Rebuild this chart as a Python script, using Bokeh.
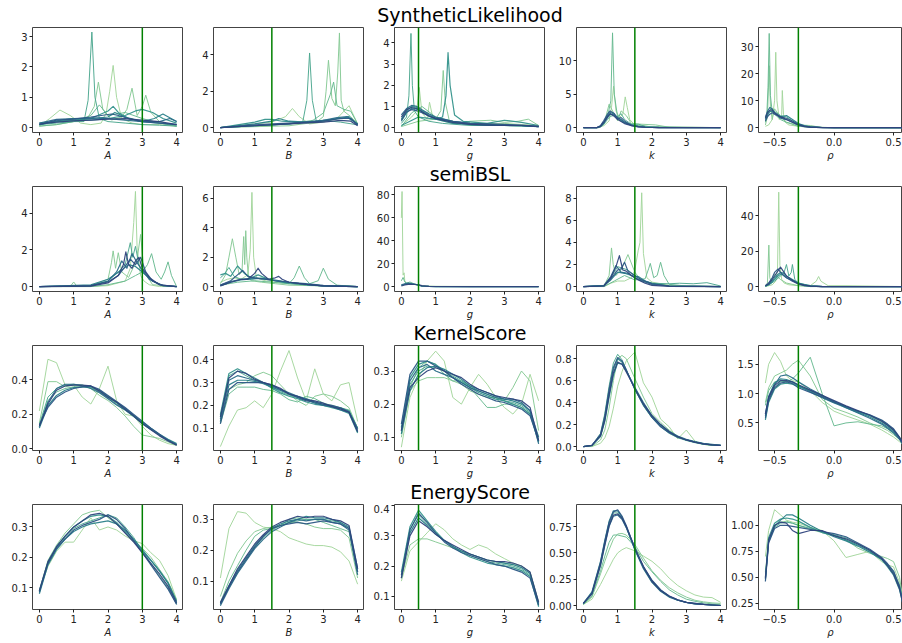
from bokeh.plotting import figure
from bokeh.models import Span, FixedTicker, Range1d, Div
from bokeh.layouts import row, column
from bokeh.embed import file_html
from bokeh.resources import INLINE

# ---------------- data ----------------
ROW_TITLES = ["SyntheticLikelihood", "semiBSL", "KernelScore", "EnergyScore"]
PARAMS = ["A", "B", "g", "k", "ρ"]
TRUE_VALUES = [3.0, 1.5, 0.5, 1.5, -0.3]

GRID = [0, 0.25, 0.5, 0.75, 1, 1.25, 1.5, 1.75, 2, 2.25, 2.5, 2.75, 3, 3.25, 3.5, 3.75, 4]
K_GRID = [0, 0.25, 0.5, 0.625, 0.75, 0.875, 1, 1.125, 1.25, 1.5, 1.75, 2, 2.25, 2.5, 2.75, 3, 3.25, 3.5, 3.75, 4]
R_GRID = [-0.577, -0.55, -0.5, -0.45, -0.4, -0.35, -0.3, -0.2, -0.1, 0.0, 0.1, 0.2, 0.3, 0.4, 0.45, 0.5, 0.55, 0.577]

# SyntheticLikelihood (x, y pairs, light -> dark)
SL_A = [
    ([0, 0.3, 0.6, 0.9, 1.2, 1.5, 1.8, 1.95, 2.05, 2.15, 2.25, 2.4, 2.7, 3.0, 3.5, 4.0],
     [0.05, 0.3, 0.58, 0.4, 0.15, 0.1, 0.15, 0.5, 1.2, 2.05, 1.0, 0.3, 0.15, 0.1, 0.1, 0.05]),
    ([0, 0.5, 1.0, 1.4, 1.6, 1.72, 1.85, 2.1, 2.4, 2.55, 2.7, 2.85, 3.0, 3.1, 3.25, 3.5, 4.0],
     [0.05, 0.1, 0.2, 0.3, 0.7, 1.5, 0.6, 0.25, 0.35, 0.6, 1.3, 0.4, 0.7, 1.07, 0.5, 0.2, 0.05]),
    ([0, 0.5, 1.0, 1.5, 1.75, 2.0, 2.5, 3.0, 3.5, 4.0],
     [0.05, 0.1, 0.2, 0.4, 0.75, 0.4, 0.5, 0.3, 0.15, 0.05]),
    ([0, 0.5, 1.0, 1.3, 1.42, 1.53, 1.62, 1.75, 2.0, 2.5, 3.0, 3.5, 4.0],
     [0.1, 0.15, 0.2, 0.2, 0.9, 3.15, 1.0, 0.3, 0.2, 0.15, 0.1, 0.08, 0.05]),
    ([0, 0.5, 1, 1.5, 2.0, 2.15, 2.3, 2.6, 3.0, 3.5, 4.0],
     [0.1, 0.2, 0.25, 0.3, 0.55, 0.7, 0.5, 0.3, 0.2, 0.15, 0.1]),
    ([0, 0.5, 1, 1.5, 2, 2.5, 2.8, 3.0, 3.3, 3.6, 4.0],
     [0.15, 0.2, 0.25, 0.25, 0.3, 0.4, 0.55, 0.6, 0.5, 0.3, 0.15]),
    ([0, 0.5, 1, 1.5, 2, 2.2, 2.5, 3, 3.35, 3.6, 4.0],
     [0.1, 0.22, 0.3, 0.3, 0.35, 0.5, 0.35, 0.2, 0.3, 0.45, 0.2]),
    ([0, 0.5, 1, 1.5, 2, 2.5, 3, 3.5, 3.8, 4.0],
     [0.15, 0.27, 0.3, 0.32, 0.3, 0.25, 0.2, 0.2, 0.3, 0.2]),
    ([0, 0.5, 1, 1.5, 1.8, 2.1, 2.3, 2.6, 3, 3.5, 4.0],
     [0.1, 0.25, 0.28, 0.35, 0.4, 0.45, 0.4, 0.3, 0.2, 0.15, 0.1]),
    ([0, 0.5, 1, 1.5, 2, 2.5, 3, 3.5, 4],
     [0.12, 0.18, 0.22, 0.25, 0.28, 0.3, 0.25, 0.2, 0.1]),
]
SL_B = [
    ([0, 0.5, 1, 1.5, 1.9, 2.1, 2.3, 2.6, 3.0, 3.4, 3.6, 3.75, 3.9, 4.0],
     [0, 0.1, 0.2, 0.3, 0.6, 1.05, 0.6, 0.2, 0.3, 0.5, 0.9, 1.2, 0.6, 0.2]),
    ([0, 1, 2, 2.8, 3.0, 3.08, 3.15, 3.25, 3.35, 3.42, 3.47, 3.52, 3.6, 3.8, 4.0],
     [0, 0.05, 0.1, 0.3, 0.6, 2.0, 3.7, 1.6, 1.2, 3.0, 5.2, 1.5, 0.9, 0.6, 0.2]),
    ([0, 1, 2, 2.7, 3.0, 3.2, 3.3, 3.4, 3.6, 3.8, 4.0],
     [0, 0.1, 0.2, 0.4, 0.8, 1.8, 2.5, 1.2, 1.0, 0.9, 0.2]),
    ([0, 1, 2, 2.4, 2.52, 2.6, 2.68, 2.8, 3.0, 3.5, 4.0],
     [0, 0.1, 0.2, 0.3, 1.5, 4.1, 1.5, 0.3, 0.4, 0.3, 0.15]),
    ([0, 0.5, 1, 1.3, 1.5, 1.8, 2.2, 2.6, 3, 3.4, 3.7, 4],
     [0, 0.15, 0.3, 0.45, 0.45, 0.35, 0.3, 0.3, 0.35, 0.5, 0.55, 0.2]),
    ([0, 0.5, 1, 1.5, 1.7, 2.0, 2.5, 3, 3.5, 3.75, 4],
     [0, 0.1, 0.2, 0.35, 0.5, 0.35, 0.3, 0.4, 0.5, 0.6, 0.15]),
    ([0, 0.5, 1, 1.5, 2, 2.5, 3, 3.4, 3.7, 4],
     [0, 0.05, 0.1, 0.15, 0.2, 0.3, 0.4, 0.55, 0.6, 0.2]),
    ([0, 0.5, 1, 1.5, 2, 2.5, 3, 3.5, 3.8, 4],
     [0, 0.08, 0.15, 0.2, 0.25, 0.3, 0.35, 0.5, 0.5, 0.15]),
    ([0, 1, 2, 3, 3.5, 3.8, 4],
     [0, 0.1, 0.2, 0.3, 0.4, 0.35, 0.1]),
]
SL_G_X = [0, 0.15, 0.3, 0.45, 0.6, 0.8, 1, 1.5, 2, 2.5, 3, 3.5, 4]
SL_G = [
    ([0, 0.3, 0.45, 0.52, 0.6, 0.75, 0.82, 0.9, 1.0, 1.5, 2, 3, 4],
     [0.1, 0.5, 0.8, 1.9, 0.7, 0.4, 1.2, 0.6, 0.4, 0.2, 0.2, 0.2, 0.1]),
    ([0, 0.5, 1.0, 1.15, 1.22, 1.28, 1.4, 1.6, 2, 2.6, 3.0, 3.4, 3.7, 4],
     [0.05, 0.3, 0.4, 0.8, 2.7, 1.2, 0.3, 0.2, 0.3, 0.35, 0.25, 0.3, 0.4, 0.1]),
    ([0, 0.3, 0.6, 1, 1.5, 2, 3, 4],
     [0.05, 0.7, 1.0, 0.5, 0.3, 0.2, 0.15, 0.05]),
    ([0, 0.15, 0.22, 0.28, 0.32, 0.38, 0.5, 0.8, 1.2, 2, 3, 4],
     [0.2, 0.5, 1.5, 4.45, 2.0, 0.8, 0.5, 0.3, 0.2, 0.1, 0.1, 0.05]),
    ([0, 0.5, 1.0, 1.2, 1.3, 1.36, 1.42, 1.55, 1.8, 2.5, 3.0, 3.5, 4],
     [0.1, 0.5, 0.4, 0.5, 1.5, 3.55, 2.0, 0.6, 0.3, 0.2, 0.35, 0.25, 0.1]),
    (SL_G_X, [0.4, 0.8, 1.0, 0.95, 0.8, 0.6, 0.45, 0.25, 0.15, 0.12, 0.1, 0.1, 0.05]),
    (SL_G_X, [0.3, 0.7, 0.9, 0.88, 0.75, 0.55, 0.4, 0.2, 0.15, 0.1, 0.1, 0.08, 0.05]),
    (SL_G_X, [0.6, 0.9, 1.05, 1.0, 0.85, 0.65, 0.5, 0.3, 0.2, 0.15, 0.12, 0.1, 0.05]),
    (SL_G_X, [0.35, 0.75, 0.85, 0.8, 0.7, 0.55, 0.45, 0.3, 0.2, 0.18, 0.15, 0.12, 0.06]),
    (SL_G_X, [0.5, 0.85, 0.95, 0.9, 0.75, 0.55, 0.42, 0.25, 0.15, 0.12, 0.1, 0.1, 0.05]),
]
SL_K_X = [0, 0.4, 0.5, 0.6, 0.7, 0.78, 0.9, 1.0, 1.1, 1.2, 1.4, 1.6, 1.8, 2.2, 4]
SL_K = [
    ([0, 0.45, 0.6, 0.75, 0.82, 0.88, 0.95, 1.05, 1.15, 1.22, 1.28, 1.35, 1.5, 2, 4],
     [0, 0, 0.3, 1.0, 3.0, 6.2, 2.5, 1.5, 2.0, 4.6, 3.0, 1.2, 0.4, 0.1, 0]),
    ([0, 0.45, 0.6, 0.75, 0.9, 1.0, 1.1, 1.25, 1.4, 1.7, 2.1, 2.5, 4],
     [0, 0, 0.5, 3.5, 2.0, 1.0, 2.5, 1.8, 0.6, 0.5, 0.4, 0.05, 0]),
    ([0, 0.4, 0.55, 0.7, 0.8, 0.85, 0.9, 1.0, 1.2, 1.5, 2, 3, 4],
     [0, 0, 0.3, 1.5, 4, 14.2, 5, 1.5, 0.8, 0.3, 0.1, 0, 0]),
    (SL_K_X, [0, 0, 0.1, 0.5, 1.2, 1.7, 1.8, 1.6, 2.1, 1.2, 0.5, 0.5, 0.2, 0.05, 0]),
    (SL_K_X, [0, 0, 0.2, 0.9, 1.8, 2.3, 2.0, 1.4, 1.0, 0.7, 0.35, 0.15, 0.05, 0, 0]),
    (SL_K_X, [0, 0, 0.15, 0.7, 1.5, 2.0, 1.9, 1.5, 1.2, 0.8, 0.4, 0.2, 0.08, 0.02, 0]),
    (SL_K_X, [0, 0, 0.3, 1.1, 2.0, 2.5, 2.1, 1.3, 1.5, 1.0, 0.3, 0.15, 0.05, 0, 0]),
    (SL_K_X, [0, 0, 0.2, 0.8, 1.6, 2.1, 1.7, 1.2, 0.9, 0.6, 0.3, 0.1, 0.05, 0, 0]),
]
SL_R_X = [-0.577, -0.56, -0.54, -0.52, -0.5, -0.45, -0.4, -0.35, -0.3, -0.25, -0.2, -0.1, 0, 0.577]
SL_RHO = [
    ([-0.577, -0.55, -0.52, -0.5, -0.49, -0.48, -0.46, -0.44, -0.435, -0.425, -0.41, -0.38, -0.3, -0.2, 0, 0.577],
     [0.5, 1, 3, 10, 28, 10, 3, 5, 13.8, 5, 2, 1, 0.5, 0.2, 0, 0]),
    ([-0.577, -0.56, -0.545, -0.535, -0.52, -0.5, -0.45, -0.4, -0.3, -0.2, -0.1, 0.577],
     [1, 4, 23, 8, 3, 7, 4, 2, 1, 0.8, 0, 0]),
    ([-0.577, -0.565, -0.555, -0.545, -0.535, -0.52, -0.5, -0.45, -0.4, -0.3, -0.2, 0, 0.577],
     [2, 5, 15, 35, 12, 6, 5, 3, 2, 0.5, 0.2, 0, 0]),
    (SL_R_X, [3.5, 5, 6.5, 7, 6, 4.5, 4, 2.5, 1.2, 0.6, 0.2, 0.05, 0, 0]),
    (SL_R_X, [3, 4.5, 6, 6, 5.5, 4, 4.5, 3, 1.5, 0.8, 0.3, 0.05, 0, 0]),
    (SL_R_X, [4, 6, 7.5, 7, 5.5, 3.5, 3, 2, 1, 0.5, 0.2, 0, 0, 0]),
    (SL_R_X, [2.5, 4, 5, 5.5, 5, 4, 3.5, 2.5, 1.3, 0.6, 0.3, 0.05, 0, 0]),
    (SL_R_X, [3.5, 5.5, 6.5, 6.5, 5.5, 4, 3, 2, 1, 0.4, 0.2, 0, 0, 0]),
]

# semiBSL
BSL_A = [
    ([0, 1.5, 2.0, 2.5, 2.65, 2.75, 2.8, 2.85, 2.95, 3.05, 3.2, 3.5, 4],
     [0, 0, 0.05, 0.3, 1.0, 3.5, 5.2, 2.0, 0.6, 0.3, 0.1, 0, 0]),
    ([0, 0.9, 1.0, 1.1, 1.5, 2.0, 2.1, 2.15, 2.22, 2.3, 2.4, 2.6, 2.85, 2.95, 3.05, 3.3, 4.0],
     [0, 0, 0.25, 0, 0.05, 0.4, 1.3, 1.95, 1.0, 1.85, 0.8, 0.5, 1.5, 2.85, 0.8, 0.1, 0]),
    ([0, 1.5, 2.0, 2.5, 2.8, 3.0, 3.15, 3.27, 3.4, 3.55, 3.65, 3.75, 3.85, 4.0],
     [0, 0, 0.1, 0.3, 0.6, 0.8, 1.2, 1.8, 0.8, 0.4, 0.8, 1.35, 0.6, 0]),
    ([0, 1.5, 2.0, 2.3, 2.5, 2.6, 2.65, 2.72, 2.8, 2.9, 3.0, 3.3, 3.6, 4],
     [0, 0.05, 0.3, 0.8, 1.2, 2.0, 2.4, 1.6, 2.2, 1.2, 0.8, 0.3, 0.05, 0]),
    ([0, 1.5, 2.0, 2.4, 2.6, 2.8, 3.0, 3.3, 3.6, 4],
     [0, 0.1, 0.4, 0.9, 1.2, 1.1, 0.8, 0.3, 0.05, 0]),
    ([0, 1.5, 2.0, 2.25, 2.4, 2.55, 2.7, 2.85, 3.0, 3.2, 3.5, 4],
     [0, 0.05, 0.3, 0.8, 1.4, 1.0, 1.8, 1.3, 0.9, 0.4, 0.1, 0]),
    ([0, 1.5, 2.0, 2.3, 2.5, 2.65, 2.8, 2.95, 3.1, 3.3, 3.6, 4],
     [0, 0.05, 0.25, 0.6, 1.1, 1.5, 1.2, 1.6, 0.8, 0.3, 0.05, 0]),
    ([0, 1.5, 2.0, 2.3, 2.45, 2.52, 2.6, 2.7, 2.8, 2.9, 3.0, 3.2, 3.5, 4],
     [0, 0.02, 0.2, 0.6, 1.2, 1.9, 1.2, 1.0, 1.4, 1.6, 1.0, 0.5, 0.1, 0]),
]
BSL_B = [
    ([0, 0.2, 0.4, 0.6, 0.8, 0.87, 0.92, 0.97, 1.05, 1.3, 1.6, 2.0, 2.5, 3, 4],
     [0.3, 0.5, 0.6, 0.5, 0.8, 2.5, 6.4, 2.0, 0.6, 0.4, 0.3, 0.2, 0.1, 0.05, 0]),
    ([0, 0.15, 0.25, 0.35, 0.45, 0.55, 0.63, 0.68, 0.71, 0.74, 0.77, 0.82, 0.9, 1.2, 1.6, 2, 3, 4],
     [0.2, 0.8, 2.0, 3.25, 2.0, 0.8, 1.0, 3.4, 1.5, 3.8, 2.0, 0.6, 0.4, 0.3, 0.2, 0.1, 0.05, 0]),
    ([0, 0.5, 1, 1.5, 2.0, 2.15, 2.3, 2.45, 2.6, 2.85, 3.0, 3.15, 3.4, 4],
     [0.1, 0.3, 0.4, 0.3, 0.2, 0.6, 1.4, 0.6, 0.2, 0.4, 1.25, 0.5, 0.1, 0]),
    ([0, 0.1, 0.25, 0.4, 0.6, 0.9, 1.2, 1.6, 2, 3, 4],
     [0.6, 0.8, 1.3, 0.7, 0.5, 0.5, 0.6, 0.4, 0.2, 0.05, 0]),
    ([0, 0.15, 0.3, 0.5, 0.7, 0.9, 1.1, 1.4, 1.8, 2.2, 2.6, 3, 4],
     [0.8, 0.9, 0.7, 1.4, 0.9, 0.6, 0.8, 0.5, 0.3, 0.2, 0.1, 0.05, 0]),
    ([0, 0.3, 0.6, 1.0, 1.3, 1.6, 2.0, 2.5, 3, 4],
     [0.05, 0.3, 0.45, 0.55, 0.55, 0.45, 0.3, 0.15, 0.05, 0]),
    ([0, 0.3, 0.6, 1.0, 1.3, 1.6, 2.0, 2.5, 3, 4],
     [0.1, 0.35, 0.5, 0.6, 0.5, 0.4, 0.3, 0.2, 0.08, 0]),
    ([0, 0.3, 0.5, 0.65, 0.8, 1.0, 1.3, 1.6, 2, 2.5, 3, 4],
     [0.1, 0.4, 0.8, 1.1, 0.7, 0.6, 0.5, 0.4, 0.3, 0.15, 0.05, 0]),
    ([0, 0.3, 0.6, 0.8, 1.0, 1.1, 1.2, 1.4, 1.6, 1.7, 1.8, 2.0, 2.5, 3, 4],
     [0.05, 0.3, 0.5, 0.5, 0.9, 1.25, 0.9, 0.5, 0.6, 0.7, 0.5, 0.3, 0.15, 0.05, 0]),
]
BSL_G_X = [0, 0.1, 0.2, 0.3, 0.4, 0.5, 0.6, 0.8, 1, 2, 4]
BSL_G = [
    ([0, 0.02, 0.05, 0.08, 0.1, 0.15, 0.3, 0.5, 0.6, 1, 4],
     [60, 83, 10, 12, 5, 3, 2, 1.5, 0.5, 0.2, 0]),
    ([0, 0.05, 0.1, 0.15, 0.25, 0.4, 0.5, 0.6, 1, 2, 4],
     [5, 8, 4, 3, 4, 2, 1.5, 0.3, 0.1, 0, 0]),
    (BSL_G_X, [1, 2, 2.5, 2.2, 2, 1.5, 0.5, 0.1, 0, 0, 0]),
    (BSL_G_X, [1.5, 2.5, 3, 2.5, 2, 1.2, 0.4, 0.1, 0, 0, 0]),
    (BSL_G_X, [0.5, 1.5, 2, 2, 1.8, 1.5, 0.8, 0.2, 0.05, 0, 0]),
]
BSL_K = [
    ([0, 0.6, 0.8, 1.0, 1.2, 1.4, 1.5, 1.6, 1.65, 1.7, 1.75, 1.85, 2.0, 2.5, 3, 4],
     [0, 0, 0.3, 0.5, 0.5, 0.8, 1.5, 3.3, 4.0, 8.5, 3.0, 0.8, 0.4, 0.1, 0, 0]),
    ([0, 0.6, 0.75, 0.82, 0.87, 0.95, 1.1, 1.3, 1.5, 1.7, 2.0, 2.5, 4],
     [0, 0.05, 1.0, 3.5, 2.0, 1.0, 1.5, 2.9, 1.3, 0.5, 0.3, 0.1, 0]),
    ([0, 0.6, 0.9, 1.2, 1.5, 1.8, 1.9, 1.95, 2.05, 2.15, 2.25, 2.35, 2.5, 3, 4],
     [0, 0, 0.5, 1.0, 0.6, 0.7, 1.6, 2.1, 0.8, 1.0, 2.2, 1.0, 0.2, 0.05, 0]),
    ([0, 0.6, 0.8, 1.0, 1.3, 1.6, 2.0, 2.5, 2.8, 3.2, 3.6, 4],
     [0, 0.05, 0.8, 1.8, 1.5, 0.7, 0.3, 0.25, 0.3, 0.25, 0.35, 0.05]),
    ([0, 0.6, 0.8, 1.0, 1.2, 1.4, 1.6, 1.8, 2.0, 2.5, 4],
     [0, 0.1, 0.6, 1.3, 1.2, 1.0, 0.9, 0.5, 0.3, 0.05, 0]),
    ([0, 0.6, 0.8, 0.95, 1.1, 1.3, 1.5, 1.7, 2.0, 2.5, 4],
     [0, 0.1, 0.9, 1.9, 1.3, 1.2, 0.8, 0.5, 0.2, 0.05, 0]),
    ([0, 0.6, 0.8, 1.0, 1.1, 1.2, 1.3, 1.5, 1.7, 2.0, 2.5, 4],
     [0, 0.05, 0.7, 1.5, 1.6, 2.2, 1.4, 1.0, 0.6, 0.25, 0.05, 0]),
    ([0, 0.6, 0.8, 0.95, 1.05, 1.15, 1.25, 1.4, 1.6, 1.8, 2.0, 2.5, 4],
     [0, 0.05, 0.8, 1.8, 2.8, 1.5, 1.4, 1.0, 0.6, 0.3, 0.1, 0.02, 0]),
]
BSL_R_X = [-0.577, -0.55, -0.52, -0.5, -0.47, -0.45, -0.42, -0.4, -0.35, -0.3, -0.25, -0.2, -0.1, 0.577]
BSL_RHO = [
    ([-0.577, -0.52, -0.49, -0.475, -0.465, -0.455, -0.44, -0.42, -0.38, -0.3, -0.2, -0.15, -0.13, -0.11, -0.05, 0.1, 0.577],
     [0, 1, 3, 10, 53.5, 12, 4, 2, 1, 0.5, 0.5, 3, 5.7, 3, 0.5, 0.5, 0]),
    ([-0.577, -0.56, -0.548, -0.54, -0.53, -0.5, -0.45, -0.4, -0.3, -0.2, 0.577],
     [0.5, 2, 23.5, 5, 3, 7, 4, 2, 0.5, 0, 0]),
    ([-0.577, -0.5, -0.45, -0.42, -0.4, -0.38, -0.36, -0.35, -0.33, -0.3, -0.25, -0.2, 0.577],
     [0, 3, 6, 8, 12.5, 6, 8, 12.5, 4, 2, 0.5, 0, 0]),
    (BSL_R_X, [0.2, 1, 2.5, 4, 6, 7, 6.5, 5, 3.5, 2, 1.2, 0.5, 0.05, 0]),
    (BSL_R_X, [0.3, 1, 3, 5, 7, 8, 7.5, 6, 4, 2, 1, 0.4, 0, 0]),
    (BSL_R_X, [0.5, 2, 5, 8, 10, 8, 6, 5, 3, 1.5, 0.5, 0.2, 0, 0]),
    (BSL_R_X, [0.5, 1.5, 4, 6, 9, 11, 8, 6, 3.5, 1.5, 0.8, 0.3, 0, 0]),
]

# KernelScore (values on GRID / K_GRID / R_GRID, light -> dark)
KS_A = [
    [0.22, 0.52, 0.5, 0.37, 0.37, 0.3, 0.26, 0.35, 0.48, 0.28, 0.2, 0.19, 0.13, 0.08, 0.05, 0.03, 0.02],
    [0.15, 0.39, 0.39, 0.36, 0.37, 0.37, 0.35, 0.31, 0.28, 0.24, 0.19, 0.13, 0.08, 0.07, 0.06, 0.04, 0.02],
    [0.13, 0.28, 0.33, 0.35, 0.36, 0.36, 0.355, 0.33, 0.3, 0.265, 0.23, 0.19, 0.15, 0.115, 0.08, 0.05, 0.025],
    [0.14, 0.30, 0.35, 0.37, 0.375, 0.37, 0.36, 0.33, 0.295, 0.26, 0.225, 0.185, 0.145, 0.11, 0.08, 0.05, 0.025],
    [0.12, 0.25, 0.31, 0.34, 0.355, 0.36, 0.36, 0.34, 0.305, 0.27, 0.235, 0.195, 0.155, 0.12, 0.085, 0.055, 0.03],
    [0.13, 0.27, 0.35, 0.375, 0.375, 0.365, 0.35, 0.325, 0.29, 0.255, 0.225, 0.19, 0.15, 0.115, 0.08, 0.05, 0.025],
    [0.14, 0.24, 0.3, 0.33, 0.35, 0.36, 0.365, 0.345, 0.31, 0.275, 0.24, 0.2, 0.16, 0.12, 0.085, 0.05, 0.022],
    [0.13, 0.26, 0.34, 0.365, 0.37, 0.37, 0.365, 0.335, 0.3, 0.27, 0.23, 0.19, 0.145, 0.11, 0.075, 0.045, 0.02],
]
KS_B = [
    [0.02, 0.11, 0.18, 0.19, 0.22, 0.19, 0.25, 0.35, 0.44, 0.32, 0.22, 0.36, 0.25, 0.22, 0.29, 0.3, 0.13],
    [0.13, 0.27, 0.29, 0.3, 0.33, 0.345, 0.33, 0.29, 0.25, 0.22, 0.2, 0.24, 0.25, 0.24, 0.22, 0.19, 0.1],
    [0.12, 0.25, 0.28, 0.28, 0.28, 0.27, 0.265, 0.25, 0.225, 0.215, 0.24, 0.23, 0.21, 0.2, 0.19, 0.18, 0.1],
    [0.15, 0.33, 0.35, 0.33, 0.31, 0.3, 0.28, 0.26, 0.245, 0.235, 0.225, 0.215, 0.2, 0.195, 0.185, 0.17, 0.09],
    [0.16, 0.34, 0.36, 0.34, 0.32, 0.3, 0.275, 0.255, 0.24, 0.23, 0.215, 0.205, 0.2, 0.19, 0.18, 0.165, 0.08],
    [0.13, 0.29, 0.31, 0.31, 0.305, 0.295, 0.28, 0.265, 0.25, 0.24, 0.23, 0.215, 0.205, 0.195, 0.19, 0.175, 0.1],
    [0.14, 0.31, 0.33, 0.32, 0.31, 0.3, 0.29, 0.27, 0.255, 0.24, 0.225, 0.21, 0.2, 0.195, 0.18, 0.17, 0.085],
    [0.12, 0.27, 0.3, 0.3, 0.3, 0.3, 0.285, 0.27, 0.25, 0.235, 0.22, 0.215, 0.205, 0.2, 0.19, 0.17, 0.095],
    [0.15, 0.32, 0.35, 0.34, 0.315, 0.3, 0.29, 0.275, 0.25, 0.24, 0.225, 0.22, 0.21, 0.195, 0.185, 0.17, 0.085],
]
KS_G = [
    [0.07, 0.22, 0.28, 0.33, 0.36, 0.33, 0.22, 0.2, 0.25, 0.29, 0.26, 0.22, 0.19, 0.17, 0.2, 0.29, 0.21],
    [0.1, 0.24, 0.27, 0.28, 0.28, 0.28, 0.27, 0.26, 0.24, 0.23, 0.22, 0.22, 0.21, 0.25, 0.3, 0.27, 0.12],
    [0.11, 0.25, 0.31, 0.33, 0.32, 0.29, 0.27, 0.27, 0.25, 0.22, 0.19, 0.19, 0.2, 0.2, 0.19, 0.17, 0.1],
    [0.12, 0.26, 0.3, 0.315, 0.31, 0.3, 0.285, 0.27, 0.255, 0.24, 0.23, 0.22, 0.21, 0.205, 0.195, 0.175, 0.09],
    [0.13, 0.28, 0.32, 0.33, 0.32, 0.3, 0.28, 0.265, 0.25, 0.235, 0.225, 0.215, 0.21, 0.2, 0.19, 0.17, 0.085],
    [0.11, 0.24, 0.29, 0.31, 0.315, 0.305, 0.29, 0.275, 0.255, 0.245, 0.235, 0.225, 0.215, 0.21, 0.2, 0.18, 0.1],
    [0.12, 0.27, 0.31, 0.32, 0.3, 0.29, 0.28, 0.265, 0.25, 0.24, 0.23, 0.22, 0.215, 0.215, 0.205, 0.18, 0.08],
    [0.14, 0.29, 0.33, 0.33, 0.315, 0.3, 0.28, 0.26, 0.245, 0.23, 0.22, 0.21, 0.205, 0.195, 0.185, 0.165, 0.09],
    [0.12, 0.25, 0.28, 0.3, 0.31, 0.3, 0.29, 0.28, 0.26, 0.245, 0.235, 0.225, 0.22, 0.215, 0.21, 0.19, 0.09],
]
KS_K = [
    [0.0, 0.0, 0.03, 0.08, 0.18, 0.35, 0.55, 0.68, 0.78, 0.86, 0.58, 0.45, 0.25, 0.18, 0.07, 0.15, 0.05, 0.02, 0.01, 0.01],
    [0.0, 0.0, 0.06, 0.15, 0.35, 0.6, 0.8, 0.83, 0.8, 0.62, 0.45, 0.3, 0.22, 0.15, 0.09, 0.06, 0.04, 0.02, 0.01, 0.01],
    [0.0, 0.01, 0.12, 0.3, 0.55, 0.76, 0.84, 0.79, 0.7, 0.52, 0.37, 0.26, 0.18, 0.12, 0.08, 0.055, 0.035, 0.02, 0.015, 0.01],
    [0.0, 0.01, 0.1, 0.26, 0.5, 0.7, 0.8, 0.77, 0.69, 0.53, 0.38, 0.27, 0.19, 0.13, 0.09, 0.06, 0.04, 0.025, 0.015, 0.01],
    [0.0, 0.01, 0.09, 0.23, 0.45, 0.65, 0.76, 0.75, 0.69, 0.54, 0.4, 0.28, 0.2, 0.14, 0.095, 0.065, 0.045, 0.03, 0.02, 0.01],
    [0.0, 0.01, 0.11, 0.28, 0.52, 0.72, 0.81, 0.78, 0.7, 0.52, 0.38, 0.265, 0.18, 0.125, 0.085, 0.06, 0.04, 0.025, 0.015, 0.01],
    [0.0, 0.01, 0.1, 0.24, 0.47, 0.67, 0.77, 0.75, 0.68, 0.53, 0.39, 0.28, 0.2, 0.135, 0.09, 0.06, 0.04, 0.025, 0.015, 0.01],
]
KS_RHO = [
    [1.18, 1.5, 1.7, 1.55, 1.3, 1.22, 1.2, 1.05, 0.85, 0.7, 0.62, 0.55, 0.48, 0.38, 0.32, 0.26, 0.18, 0.14],
    [0.85, 1.1, 1.3, 1.35, 1.4, 1.5, 1.57, 1.3, 0.9, 0.75, 0.68, 0.6, 0.5, 0.42, 0.37, 0.3, 0.22, 0.15],
    [0.8, 1.05, 1.2, 1.22, 1.2, 1.25, 1.35, 1.62, 1.0, 0.45, 0.5, 0.52, 0.48, 0.45, 0.4, 0.32, 0.22, 0.17],
    [0.6, 0.9, 1.12, 1.2, 1.21, 1.18, 1.13, 1.04, 0.95, 0.86, 0.77, 0.69, 0.62, 0.52, 0.45, 0.37, 0.25, 0.15],
    [0.55, 0.85, 1.08, 1.16, 1.18, 1.16, 1.12, 1.05, 0.96, 0.87, 0.78, 0.7, 0.63, 0.54, 0.47, 0.38, 0.24, 0.13],
    [0.65, 0.95, 1.18, 1.25, 1.24, 1.2, 1.14, 1.03, 0.93, 0.84, 0.76, 0.68, 0.6, 0.5, 0.43, 0.35, 0.24, 0.15],
    [0.62, 0.92, 1.15, 1.3, 1.32, 1.27, 1.2, 1.08, 0.97, 0.86, 0.76, 0.67, 0.58, 0.48, 0.41, 0.33, 0.22, 0.14],
    [0.58, 0.88, 1.1, 1.18, 1.2, 1.17, 1.1, 1.02, 0.94, 0.85, 0.78, 0.7, 0.64, 0.55, 0.48, 0.4, 0.26, 0.16],
    [0.65, 0.94, 1.14, 1.22, 1.22, 1.2, 1.15, 1.06, 0.97, 0.88, 0.79, 0.71, 0.63, 0.53, 0.46, 0.38, 0.25, 0.15],
]

# EnergyScore
ES_A = [
    [0.09, 0.17, 0.22, 0.25, 0.25, 0.29, 0.33, 0.29, 0.3, 0.29, 0.27, 0.255, 0.245, 0.215, 0.19, 0.14, 0.06],
    [0.09, 0.19, 0.24, 0.28, 0.31, 0.34, 0.35, 0.355, 0.33, 0.31, 0.28, 0.25, 0.23, 0.2, 0.16, 0.12, 0.06],
    [0.085, 0.18, 0.23, 0.265, 0.295, 0.31, 0.32, 0.33, 0.34, 0.33, 0.3, 0.265, 0.22, 0.18, 0.14, 0.1, 0.045],
    [0.09, 0.185, 0.235, 0.27, 0.3, 0.32, 0.335, 0.34, 0.335, 0.315, 0.285, 0.255, 0.22, 0.19, 0.155, 0.115, 0.05],
    [0.08, 0.175, 0.225, 0.26, 0.285, 0.3, 0.31, 0.315, 0.32, 0.31, 0.29, 0.26, 0.225, 0.19, 0.155, 0.115, 0.055],
    [0.085, 0.18, 0.23, 0.26, 0.29, 0.305, 0.315, 0.325, 0.34, 0.325, 0.295, 0.255, 0.215, 0.175, 0.135, 0.095, 0.045],
    [0.09, 0.185, 0.235, 0.27, 0.3, 0.32, 0.34, 0.345, 0.335, 0.31, 0.28, 0.25, 0.215, 0.18, 0.145, 0.105, 0.05],
]
ES_B = [
    [0.11, 0.27, 0.325, 0.32, 0.29, 0.275, 0.27, 0.26, 0.24, 0.23, 0.22, 0.215, 0.215, 0.21, 0.195, 0.165, 0.09],
    [0.05, 0.13, 0.19, 0.23, 0.26, 0.27, 0.275, 0.28, 0.29, 0.29, 0.285, 0.275, 0.27, 0.27, 0.265, 0.24, 0.11],
    [0.03, 0.1, 0.15, 0.2, 0.245, 0.265, 0.27, 0.28, 0.3, 0.305, 0.3, 0.3, 0.29, 0.28, 0.27, 0.26, 0.13],
    [0.025, 0.08, 0.13, 0.17, 0.21, 0.24, 0.265, 0.28, 0.29, 0.295, 0.3, 0.3, 0.3, 0.295, 0.29, 0.27, 0.13],
    [0.03, 0.085, 0.135, 0.175, 0.215, 0.245, 0.27, 0.285, 0.295, 0.3, 0.31, 0.305, 0.305, 0.3, 0.29, 0.275, 0.14],
    [0.02, 0.075, 0.125, 0.165, 0.205, 0.235, 0.26, 0.275, 0.29, 0.3, 0.295, 0.3, 0.3, 0.29, 0.285, 0.265, 0.12],
    [0.025, 0.08, 0.13, 0.17, 0.21, 0.245, 0.27, 0.28, 0.285, 0.29, 0.285, 0.29, 0.295, 0.29, 0.285, 0.27, 0.13],
    [0.03, 0.085, 0.14, 0.18, 0.22, 0.25, 0.275, 0.29, 0.3, 0.31, 0.305, 0.31, 0.31, 0.3, 0.295, 0.28, 0.14],
]
ES_G = [
    [0.15, 0.25, 0.28, 0.31, 0.34, 0.32, 0.29, 0.27, 0.255, 0.27, 0.26, 0.24, 0.225, 0.21, 0.2, 0.18, 0.08],
    [0.16, 0.27, 0.29, 0.29, 0.28, 0.27, 0.26, 0.25, 0.24, 0.23, 0.22, 0.215, 0.21, 0.205, 0.2, 0.18, 0.08],
    [0.17, 0.32, 0.37, 0.34, 0.31, 0.285, 0.265, 0.25, 0.235, 0.225, 0.215, 0.21, 0.205, 0.2, 0.19, 0.17, 0.07],
    [0.18, 0.33, 0.385, 0.35, 0.315, 0.285, 0.265, 0.245, 0.23, 0.22, 0.21, 0.205, 0.2, 0.195, 0.185, 0.165, 0.065],
    [0.16, 0.31, 0.36, 0.335, 0.305, 0.285, 0.265, 0.25, 0.24, 0.23, 0.22, 0.215, 0.21, 0.205, 0.195, 0.175, 0.075],
    [0.17, 0.32, 0.375, 0.345, 0.31, 0.28, 0.26, 0.245, 0.235, 0.225, 0.215, 0.205, 0.2, 0.19, 0.18, 0.16, 0.07],
    [0.16, 0.3, 0.35, 0.33, 0.305, 0.285, 0.27, 0.255, 0.24, 0.23, 0.22, 0.215, 0.215, 0.21, 0.2, 0.18, 0.08],
]
ES_K = [
    [0.01, 0.06, 0.2, 0.28, 0.36, 0.44, 0.5, 0.53, 0.55, 0.52, 0.47, 0.42, 0.35, 0.26, 0.19, 0.14, 0.1, 0.08, 0.075, 0.03],
    [0.01, 0.08, 0.3, 0.42, 0.53, 0.63, 0.68, 0.685, 0.67, 0.58, 0.45, 0.33, 0.24, 0.17, 0.12, 0.08, 0.05, 0.035, 0.025, 0.02],
    [0.01, 0.09, 0.33, 0.47, 0.6, 0.67, 0.67, 0.66, 0.65, 0.56, 0.42, 0.32, 0.23, 0.15, 0.1, 0.06, 0.04, 0.025, 0.015, 0.01],
    [0.02, 0.12, 0.4, 0.6, 0.78, 0.88, 0.88, 0.83, 0.74, 0.53, 0.36, 0.23, 0.14, 0.085, 0.05, 0.03, 0.015, 0.01, 0.005, 0.0],
    [0.02, 0.13, 0.42, 0.62, 0.8, 0.9, 0.9, 0.84, 0.75, 0.53, 0.35, 0.22, 0.135, 0.08, 0.05, 0.03, 0.015, 0.01, 0.005, 0.0],
    [0.02, 0.11, 0.38, 0.57, 0.75, 0.85, 0.86, 0.82, 0.74, 0.54, 0.37, 0.24, 0.15, 0.09, 0.055, 0.03, 0.02, 0.01, 0.005, 0.0],
    [0.02, 0.12, 0.41, 0.61, 0.79, 0.89, 0.91, 0.85, 0.76, 0.54, 0.36, 0.225, 0.14, 0.085, 0.05, 0.03, 0.015, 0.01, 0.005, 0.0],
    [0.02, 0.11, 0.39, 0.58, 0.76, 0.86, 0.87, 0.83, 0.75, 0.55, 0.37, 0.235, 0.145, 0.09, 0.055, 0.03, 0.02, 0.01, 0.005, 0.0],
]
ES_RHO = [
    [0.7, 0.95, 1.15, 1.1, 1.05, 1.03, 1.02, 0.98, 0.95, 0.85, 0.69, 0.72, 0.75, 0.65, 0.62, 0.6, 0.45, 0.3],
    [0.55, 0.85, 1.0, 1.03, 1.04, 1.02, 1.0, 0.96, 0.93, 0.9, 0.86, 0.78, 0.73, 0.7, 0.68, 0.65, 0.5, 0.3],
    [0.47, 0.85, 0.98, 1.02, 1.03, 1.02, 1.0, 0.97, 0.94, 0.91, 0.88, 0.82, 0.76, 0.68, 0.62, 0.54, 0.4, 0.26],
    [0.5, 0.88, 1.02, 1.06, 1.07, 1.06, 1.04, 0.98, 0.93, 0.9, 0.86, 0.81, 0.75, 0.67, 0.6, 0.52, 0.38, 0.25],
    [0.48, 0.84, 0.99, 1.05, 1.1, 1.1, 1.07, 1.0, 0.94, 0.89, 0.85, 0.8, 0.74, 0.67, 0.62, 0.55, 0.42, 0.28],
    [0.46, 0.83, 0.97, 1.0, 1.0, 0.99, 0.98, 0.96, 0.94, 0.92, 0.89, 0.83, 0.77, 0.69, 0.63, 0.56, 0.41, 0.26],
    [0.49, 0.86, 1.0, 1.03, 1.02, 0.95, 0.92, 0.95, 0.95, 0.9, 0.87, 0.82, 0.76, 0.68, 0.61, 0.53, 0.39, 0.25],
]

Y_RANGES = [
    [(-0.16, 3.3), (-0.27, 5.5), (-0.23, 4.73), (-0.74, 15.0), (-1.8, 37.2)],
    [(-0.27, 5.47), (-0.33, 6.8), (-4.3, 87.4), (-0.45, 9.07), (-2.8, 56.7)],
    [(-0.01, 0.6), (0.003, 0.462), (0.06, 0.377), (-0.036, 0.92), (0.03, 1.82)],
    [(0.028, 0.374), (0.008, 0.348), (0.056, 0.404), (-0.038, 0.96), (0.19, 1.2)],
]
Y_TICKS = [
    [[0, 1, 2, 3], [0, 2, 4], [0, 1, 2, 3, 4], [0, 5, 10], [0, 10, 20, 30]],
    [[0, 2, 4], [0, 2, 4, 6], [0, 20, 40, 60, 80], [0, 2, 4, 6, 8], [0, 20, 40]],
    [[0, 0.2, 0.4], [0.1, 0.2, 0.3, 0.4], [0.1, 0.2, 0.3], [0, 0.2, 0.4, 0.6, 0.8], [0.5, 1.0, 1.5]],
    [[0.1, 0.2, 0.3], [0.1, 0.2, 0.3], [0.1, 0.2, 0.3, 0.4], [0, 0.25, 0.5, 0.75], [0.25, 0.5, 0.75, 1.0]],
]
Y_DECIMALS = [
    [0, 0, 0, 0, 0],
    [0, 0, 0, 0, 0],
    [1, 1, 1, 1, 1],
    [1, 1, 1, 2, 2],
]
X_TICKS = [[0, 1, 2, 3, 4]] * 4 + [[-0.5, 0.0, 0.5]]

# ---------------- styling ----------------
CREST = ["#a3d69c", "#86c995", "#67b990", "#4ba68e", "#35938c", "#2a7f89",
         "#296b88", "#2c5785", "#2e437c"]
FONT = "DejaVu Sans"
FRAME_H = 107
FRAME_W = [151, 151, 151, 151, 144]
LEFT_B = [32, 30, 30, 31, 31]
X_RANGES = [(-0.2, 4.2)] * 4 + [(-0.635, 0.575)]
TITLE_H = [27, 23, 23, 23]
TITLE_CENTER = 470


def as_pairs(curves, grid):
    return [(grid, ys) for ys in curves]


PANELS = [
    [SL_A, SL_B, SL_G, SL_K, SL_RHO],
    [BSL_A, BSL_B, BSL_G, BSL_K, BSL_RHO],
    [as_pairs(KS_A, GRID), as_pairs(KS_B, GRID), as_pairs(KS_G, GRID),
     as_pairs(KS_K, K_GRID), as_pairs(KS_RHO, R_GRID)],
    [as_pairs(ES_A, GRID), as_pairs(ES_B, GRID), as_pairs(ES_G, GRID),
     as_pairs(ES_K, K_GRID), as_pairs(ES_RHO, R_GRID)],
]


def fmt(v, d):
    s = f"{v:.{d}f}"
    return s.replace("-", "\u2212")


blocks = []
for r in range(4):
    h = TITLE_H[r]
    title_html = (
        f'<div style="position:relative;width:902px;height:{h}px;">'
        f'<span style="position:absolute;left:{TITLE_CENTER}px;bottom:1px;transform:translateX(-50%);'
        f"font-family:'DejaVu Sans';font-size:19px;line-height:22px;color:#000;white-space:nowrap;\">"
        f'{ROW_TITLES[r]}</span></div>'
    )
    blocks.append(Div(text=title_html, width=902, height=h, margin=(0, 0, 0, 0)))
    figs = []
    for c in range(5):
        p = figure(width=LEFT_B[c] + FRAME_W[c], height=FRAME_H + 29,
                   x_range=Range1d(*X_RANGES[c]), y_range=Range1d(*Y_RANGES[r][c]),
                   output_backend="svg", toolbar_location=None,
                   min_border_left=LEFT_B[c], min_border_right=0,
                   min_border_top=0, min_border_bottom=29)
        p.background_fill_color = "white"
        p.border_fill_color = "white"
        p.outline_line_color = "#444444"
        p.outline_line_width = 1
        p.xgrid.visible = False
        p.ygrid.visible = False

        curves = PANELS[r][c]
        n = len(curves)
        for i, (xs, ys) in enumerate(curves):
            ci = round(i * (len(CREST) - 1) / max(n - 1, 1))
            lw = 1.0 if ci < 4 else 1.2
            p.line(xs, ys, line_color=CREST[ci], line_width=lw, line_alpha=0.95,
                   line_join="round")
        p.add_layout(Span(location=TRUE_VALUES[c], dimension="height",
                          line_color="#008000", line_width=1.5))

        for ax in (p.xaxis[0], p.yaxis[0]):
            ax.axis_line_color = None
            ax.major_tick_line_color = "#222222"
            ax.major_tick_out = 3
            ax.major_tick_in = 0
            ax.minor_tick_line_color = None
            ax.major_label_text_font = FONT
            ax.major_label_text_font_size = "10px"
            ax.major_label_text_color = "#222222"
            ax.major_label_standoff = 2
        p.xaxis[0].ticker = FixedTicker(ticks=X_TICKS[c])
        if c == 4:
            p.xaxis[0].major_label_overrides = {t: fmt(t, 1) for t in X_TICKS[c]}
        p.yaxis[0].ticker = FixedTicker(ticks=Y_TICKS[r][c])
        p.yaxis[0].major_label_overrides = {t: fmt(t, Y_DECIMALS[r][c]) for t in Y_TICKS[r][c]}
        p.xaxis[0].axis_label = PARAMS[c]
        p.xaxis[0].axis_label_text_font = FONT
        p.xaxis[0].axis_label_text_font_size = "10px"
        p.xaxis[0].axis_label_text_font_style = "italic"
        p.xaxis[0].axis_label_text_color = "#222222"
        p.xaxis[0].axis_label_standoff = 1
        figs.append(p)
    blocks.append(row(*figs, spacing=0))

layout = column(*blocks, spacing=0)

open("out.html", "w").write(file_html(layout, INLINE))
